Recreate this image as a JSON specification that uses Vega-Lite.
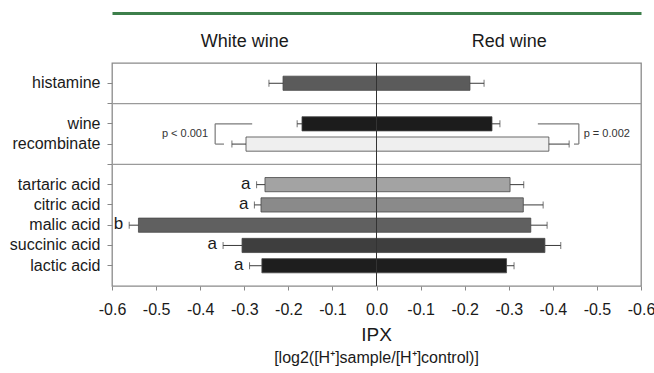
{
  "$schema": "https://vega.github.io/schema/vega-lite/v6.json",
  "autosize": {"type": "none"},
  "width": 529,
  "height": 223,
  "padding": {"left": 112, "top": 63, "right": 13, "bottom": 87},
  "background": "white",
  "config": {
    "view": {"stroke": "#8a8a8a", "strokeWidth": 1.3},
    "font": "Liberation Sans",
    "axis": {"labelFont": "Liberation Sans", "grid": false}
  },
  "title": {
    "text": "IPX",
    "subtitle": "[log2([H⁺]sample/[H⁺]control)]",
    "orient": "bottom",
    "anchor": "middle",
    "frame": "group",
    "font": "Liberation Sans",
    "subtitleFont": "Liberation Sans",
    "fontSize": 19,
    "fontWeight": "normal",
    "subtitleFontSize": 16,
    "color": "#1a1a1a",
    "subtitleColor": "#1a1a1a",
    "offset": 9,
    "subtitlePadding": 5
  },
  "datasets": {
    "bars": [
      {"row": "histamine", "side": "White wine", "x": -0.212, "err": -0.244, "letter": null},
      {"row": "histamine", "side": "Red wine", "x": 0.212, "err": 0.244, "letter": null},
      {"row": "wine", "side": "White wine", "x": -0.169, "err": -0.180, "letter": null},
      {"row": "wine", "side": "Red wine", "x": 0.262, "err": 0.280, "letter": null},
      {"row": "recombinate", "side": "White wine", "x": -0.296, "err": -0.328, "letter": null},
      {"row": "recombinate", "side": "Red wine", "x": 0.391, "err": 0.437, "letter": null},
      {"row": "tartaric acid", "side": "White wine", "x": -0.253, "err": -0.272, "letter": "a"},
      {"row": "tartaric acid", "side": "Red wine", "x": 0.303, "err": 0.334, "letter": null},
      {"row": "citric acid", "side": "White wine", "x": -0.262, "err": -0.277, "letter": "a"},
      {"row": "citric acid", "side": "Red wine", "x": 0.333, "err": 0.378, "letter": null},
      {"row": "malic acid", "side": "White wine", "x": -0.540, "err": -0.561, "letter": "b"},
      {"row": "malic acid", "side": "Red wine", "x": 0.350, "err": 0.387, "letter": null},
      {"row": "succinic acid", "side": "White wine", "x": -0.305, "err": -0.348, "letter": "a"},
      {"row": "succinic acid", "side": "Red wine", "x": 0.382, "err": 0.418, "letter": null},
      {"row": "lactic acid", "side": "White wine", "x": -0.260, "err": -0.288, "letter": "a"},
      {"row": "lactic acid", "side": "Red wine", "x": 0.295, "err": 0.312, "letter": null}
    ],
    "seps": [{"row": "s1"}, {"row": "s2"}],
    "brackets": [
      {"x": -0.366, "x2": -0.366, "y": "wine", "y2": "recombinate"},
      {"x": -0.366, "x2": -0.282, "y": "wine", "y2": "wine"},
      {"x": -0.366, "x2": -0.346, "y": "recombinate", "y2": "recombinate"},
      {"x": 0.459, "x2": 0.459, "y": "wine", "y2": "recombinate"},
      {"x": 0.366, "x2": 0.459, "y": "wine", "y2": "wine"},
      {"x": 0.448, "x2": 0.459, "y": "recombinate", "y2": "recombinate"}
    ],
    "ptext": [
      {"x": -0.382, "row": "wine", "label": "p < 0.001", "side": "left"},
      {"x": 0.47, "row": "wine", "label": "p = 0.002", "side": "right"}
    ]
  },
  "resolve": {"axis": {"x": "independent"}},
  "layer": [
    {
      "data": {"name": "seps"},
      "mark": {"type": "rule", "color": "#9a9a9a", "strokeWidth": 1.2},
      "encoding": {
        "y": {"field": "row", "type": "nominal"}
      }
    },
    {
      "data": {"name": "bars"},
      "mark": {"type": "bar", "stroke": "#474747", "strokeWidth": 0.8},
      "encoding": {
        "y": {
          "field": "row",
          "type": "nominal",
          "sort": null,
          "scale": {
            "domain": ["histamine", "s1", "wine", "recombinate", "s2", "tartaric acid", "citric acid", "malic acid", "succinic acid", "lactic acid"],
            "paddingInner": 0.3,
            "paddingOuter": 0.65
          },
          "axis": {
            "title": null,
            "domain": false,
            "ticks": true,
            "tickSize": 5,
            "tickColor": "#888888",
            "labelPadding": 7,
            "labelFontSize": 16,
            "labelColor": "#1a1a1a",
            "labelExpr": "(datum.value == 's1' || datum.value == 's2') ? '' : datum.value"
          }
        },
        "x": {
          "field": "x",
          "type": "quantitative",
          "scale": {"domain": [-0.6, 0.6], "nice": false, "zero": true},
          "axis": {
            "orient": "bottom",
            "title": null,
            "domain": false,
            "values": [-0.6, -0.5, -0.4, -0.3, -0.2, -0.1, 0, 0.1, 0.2, 0.3, 0.4, 0.5, 0.6],
            "labelExpr": "datum.value == 0 ? '0.0' : '-' + format(abs(datum.value), '.1f')",
            "tickSize": 4,
            "tickColor": "#888888",
            "labelPadding": 11,
            "labelFontSize": 16,
            "labelColor": "#1a1a1a",
            "labelFlush": false,
            "labelOverlap": false
          }
        },
        "color": {
          "field": "row",
          "type": "nominal",
          "legend": null,
          "scale": {
            "domain": ["histamine", "wine", "recombinate", "tartaric acid", "citric acid", "malic acid", "succinic acid", "lactic acid"],
            "range": ["#5b5b5b", "#1c1c1c", "#efefef", "#a3a3a3", "#8a8a8a", "#606060", "#3e3e3e", "#1e1e1e"]
          }
        }
      }
    },
    {
      "data": {"name": "bars"},
      "mark": {"type": "rule", "color": "#3a3a3a", "strokeWidth": 1},
      "encoding": {
        "y": {"field": "row", "type": "nominal"},
        "x": {"field": "x", "type": "quantitative", "axis": null},
        "x2": {"field": "err"}
      }
    },
    {
      "data": {"name": "bars"},
      "mark": {"type": "tick", "color": "#3a3a3a", "thickness": 1, "size": 7, "orient": "vertical"},
      "encoding": {
        "y": {"field": "row", "type": "nominal"},
        "x": {"field": "err", "type": "quantitative", "axis": null}
      }
    },
    {
      "data": {"name": "bars"},
      "transform": [{"filter": "datum.letter != null"}],
      "mark": {"type": "text", "align": "right", "baseline": "middle", "dx": -6, "dy": -1, "fontSize": 17, "color": "#1a1a1a"},
      "encoding": {
        "y": {"field": "row", "type": "nominal"},
        "x": {"field": "err", "type": "quantitative", "axis": null},
        "text": {"field": "letter"}
      }
    },
    {
      "data": {"name": "brackets"},
      "mark": {"type": "rule", "color": "#7a7a7a", "strokeWidth": 1.2},
      "encoding": {
        "x": {"field": "x", "type": "quantitative", "axis": null},
        "x2": {"field": "x2"},
        "y": {"field": "y", "type": "nominal"},
        "y2": {"field": "y2"}
      }
    },
    {
      "data": {"name": "ptext"},
      "transform": [{"filter": "datum.side == 'left'"}],
      "mark": {"type": "text", "align": "right", "baseline": "middle", "dy": 10, "fontSize": 11, "color": "#333333"},
      "encoding": {
        "x": {
          "field": "x",
          "type": "quantitative",
          "axis": {
            "orient": "top",
            "offset": 50,
            "labels": false,
            "ticks": false,
            "title": null,
            "domain": true,
            "domainColor": "#3d7f4b",
            "domainWidth": 3
          }
        },
        "y": {"field": "row", "type": "nominal"},
        "text": {"field": "label"}
      }
    },
    {
      "data": {"name": "ptext"},
      "transform": [{"filter": "datum.side == 'right'"}],
      "mark": {"type": "text", "align": "left", "baseline": "middle", "dy": 10, "fontSize": 11, "color": "#333333"},
      "encoding": {
        "x": {"field": "x", "type": "quantitative", "axis": null},
        "y": {"field": "row", "type": "nominal"},
        "text": {"field": "label"}
      }
    },
    {
      "data": {"values": [{"z": 0}]},
      "mark": {"type": "rule", "color": "#333333", "strokeWidth": 1},
      "encoding": {
        "x": {
          "field": "z",
          "type": "quantitative",
          "axis": {
            "orient": "top",
            "title": null,
            "domain": false,
            "ticks": false,
            "tickSize": 0,
            "values": [-0.3, 0.3],
            "labelExpr": "datum.value < 0 ? 'White wine' : 'Red wine'",
            "labelFontSize": 18,
            "labelColor": "#1a1a1a",
            "labelPadding": 13,
            "labelFlush": false
          }
        }
      }
    }
  ]
}
